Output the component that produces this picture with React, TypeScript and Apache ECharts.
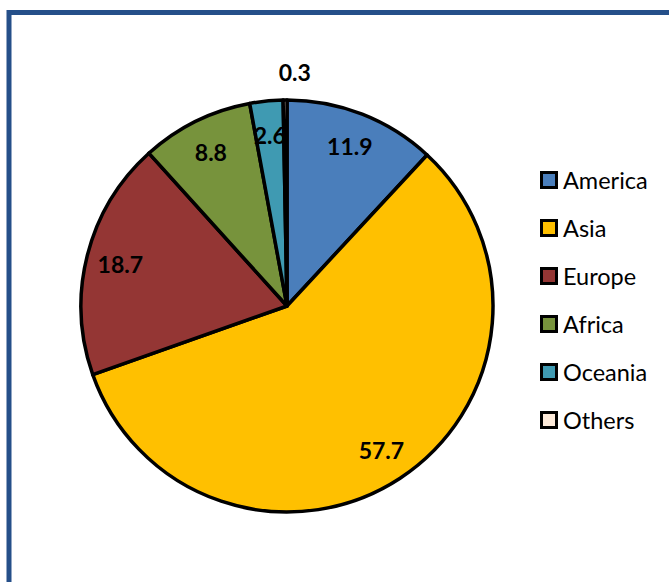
import React, { useEffect, useRef } from "react";
import * as echarts from "echarts";

const categories = ["America", "Asia", "Europe", "Africa", "Oceania", "Others"];
const values = [11.9, 57.7, 18.7, 8.8, 2.6, 0.3];
const colors = ["#4A7EBB", "#FFC000", "#943634", "#77933C", "#3F9AB2", "#FDEADA"];

export default function App() {
  const ref = useRef<HTMLDivElement>(null);
  useEffect(() => {
    document.body.style.margin = "0";
    const chart = echarts.init(ref.current!, null, { renderer: "svg" });
    const R = 206;
    const cx = 287;
    const cy = 306;
    const labelFont = { fontFamily: "Lato", fontWeight: "bold" as const, fontSize: 23, color: "#000" };
    const rich: Record<string, any> = {
      s: { fontSize: 8, width: 8 },
      t: { fontFamily: "Lato", fontSize: 23.5, color: "#000", lineHeight: 24 },
    };
    colors.forEach((c, i) => {
      rich["b" + i] = { width: 12, height: 12, backgroundColor: c, borderColor: "#000", borderWidth: 3 };
    });
    chart.setOption({
      animation: false,
      backgroundColor: "#fff",
      graphic: [
        {
          type: "rect",
          shape: { x: 9, y: 12.5, width: 720, height: 640 },
          style: { fill: "none", stroke: "#254F89", lineWidth: 5 },
          z: 100,
        },
      ],
      legend: {
        orient: "vertical",
        left: 533,
        top: 163,
        itemWidth: 0,
        itemHeight: 0,
        itemGap: 24,
        icon: "rect",
        itemStyle: { opacity: 0, borderWidth: 0 },
        formatter: (name: string) => `{b${categories.indexOf(name)}|}{s| }{t|${name}}`,
        textStyle: { fontFamily: "Lato", fontSize: 23.5, lineHeight: 24, color: "#000", rich },
        data: categories,
      },
      series: [
        {
          type: "pie",
          center: [cx, cy],
          radius: [0, R],
          startAngle: 90,
          clockwise: true,
          silent: true,
          label: { show: false },
          labelLine: { show: false },
          itemStyle: { borderColor: "#000", borderWidth: 3.5 },
          data: categories.map((c, i) => ({ name: c, value: values[i], itemStyle: { color: colors[i] } })),
        },
        {
          type: "pie",
          center: [cx, cy],
          radius: [R * 0.64, R],
          startAngle: 90,
          clockwise: true,
          silent: true,
          z: 5,
          legendHoverLink: false,
          itemStyle: { color: "rgba(0,0,0,0)", borderWidth: 0 },
          labelLine: { show: false },
          label: { show: true, position: "inside", formatter: "{c}", ...labelFont },
          data: categories.map((c, i) => ({
            name: c,
            value: values[i],
            label: { show: c !== "Others" },
          })),
        },
        {
          type: "pie",
          center: [cx, cy],
          radius: [R + 12, R + 38],
          startAngle: 90,
          clockwise: true,
          silent: true,
          z: 5,
          legendHoverLink: false,
          itemStyle: { color: "rgba(0,0,0,0)", borderWidth: 0 },
          labelLine: { show: false },
          label: { show: true, position: "inside", formatter: "{c}", ...labelFont },
          data: categories.map((c, i) => ({
            name: c,
            value: values[i],
            label: c === "Others" ? { show: true, offset: [10, 0] } : { show: false },
          })),
        },
      ],
    });
    return () => chart.dispose();
  }, []);
  return <div ref={ref} style={{ width: 669, height: 582 }} />;
}
